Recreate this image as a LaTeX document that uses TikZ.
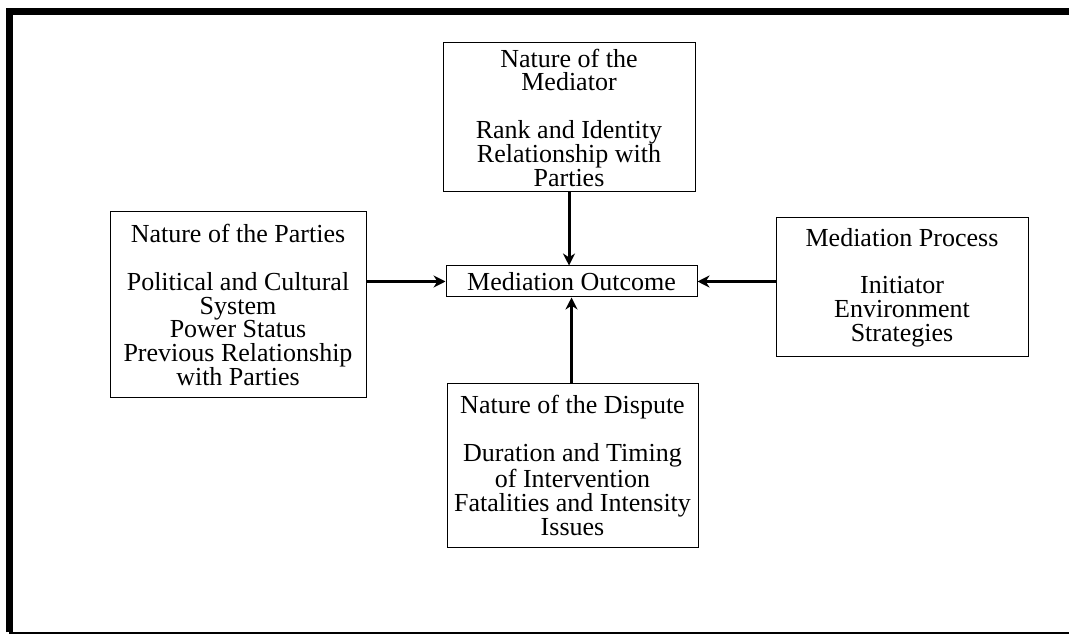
\documentclass[tikz,border=0pt]{standalone}
\usepackage{fontspec}
\setmainfont{Liberation Serif}
\usetikzlibrary{arrows.meta}

\begin{document}
\begin{tikzpicture}[x=0.5pt,y=-0.5pt,
                    factor node/.style={rectangle,draw,line width=0.5pt,align=center,inner sep=0pt,
                                        font=\fontsize{13}{11.9}\selectfont},
                    link/.style={-{Stealth[length=6pt,width=6pt]},line width=1.5pt}]
  \useasboundingbox (0,0) rectangle (1069,635);
  % frame
  \draw[line width=3.5pt] (9,632) -- (9,11.5) -- (1069,11.5);
  \draw[line width=1pt] (9,633) -- (1069,633);

  \node[factor node,minimum width=126pt,minimum height=74.5pt] (mediator) at (569,117.5)
    {Nature of the\\Mediator\\[11.9pt]Rank and Identity\\Relationship with\\Parties};
  \node[factor node,minimum width=125.5pt,minimum height=15.5pt] (outcome) at (571.5,281.5)
    {Mediation Outcome};
  \node[factor node,minimum width=128pt,minimum height=93pt] (parties) at (238,305)
    {Nature of the Parties\\[11.9pt]Political and Cultural\\System\\Power Status\\Previous Relationship\\with Parties};
  \node[factor node,minimum width=126pt,minimum height=69.5pt] (process) at (902,287.5)
    {Mediation Process\\[11.9pt]Initiator\\Environment\\Strategies};
  \node[factor node,minimum width=125.5pt,minimum height=81.5pt] (dispute) at (572.5,465.5)
    {Nature of the Dispute\\[11.9pt]Duration and Timing\\of Intervention\\Fatalities and Intensity\\Issues};

  \draw[link] (mediator) -- (mediator |- outcome.north);
  \draw[link] (dispute.north -| outcome) -- (outcome);
  \draw[link] (parties.east |- outcome) -- (outcome);
  \draw[link] (process.west |- outcome) -- (outcome);

\end{tikzpicture}
\end{document}
